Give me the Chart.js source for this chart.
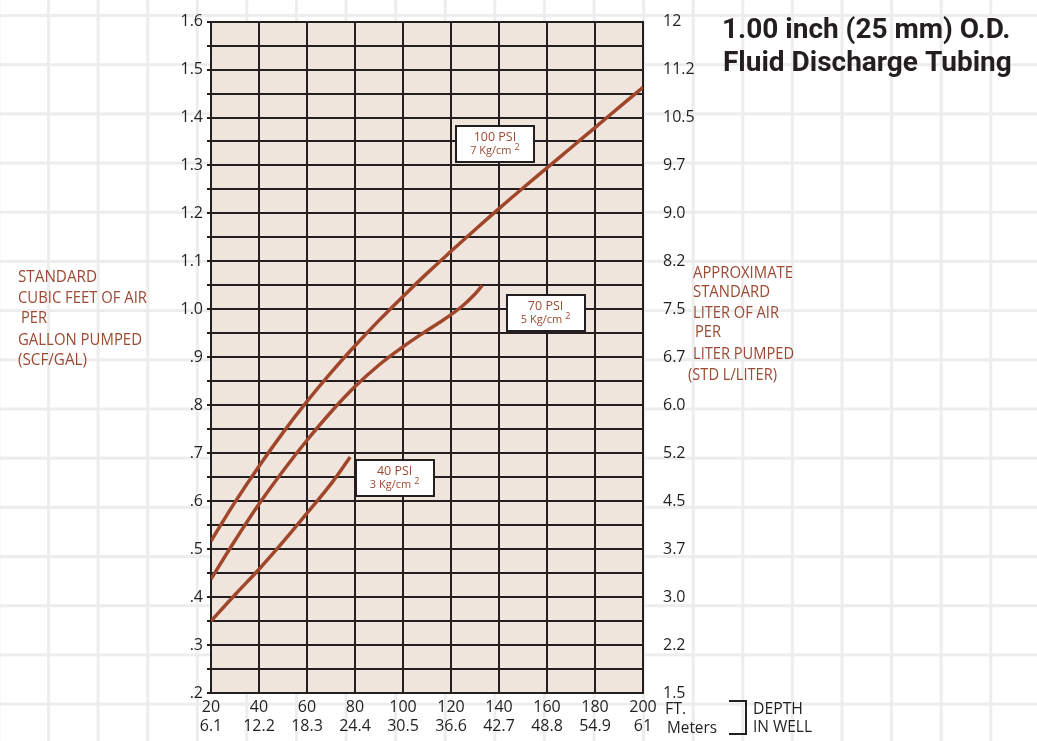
<!DOCTYPE html>
<html>
<head>
<meta charset="utf-8">
<script src="https://cdn.jsdelivr.net/npm/chart.js@4.4.0/dist/chart.umd.min.js"></script>
<style>
  body {
    margin: 0;
    width: 1037px;
    height: 741px;
    overflow: hidden;
    background-color: #fff;
    background-image:
      linear-gradient(to right, #ededed 3px, transparent 3px),
      linear-gradient(to bottom, #ededed 3px, transparent 3px);
    background-size: 49.6px 49.2px;
    background-position: 47px 14px;
  }
  canvas { display: block; }
</style>
</head>
<body>
<canvas id="tubeChart" width="1037" height="741"></canvas>
<script>
// depth axis (feet + metres)
const depthFt = [20, 40, 60, 80, 100, 120, 140, 160, 180, 200];
const depthMeters = ['6.1', '12.2', '18.3', '24.4', '30.5', '36.6', '42.7', '48.8', '54.9', '61'];

// left axis SCF/GAL, right axis STD L/LITER (same gridlines)
const scfLabels = ['.2', '.3', '.4', '.5', '.6', '.7', '.8', '.9', '1.0', '1.1', '1.2', '1.3', '1.4', '1.5', '1.6'];
const literLabels = ['1.5', '2.2', '3.0', '3.7', '4.5', '5.2', '6.0', '6.7', '7.5', '8.2', '9.0', '9.7', '10.5', '11.2', '12'];

// curves
const psi100Depth = [20, 30, 40, 50, 60, 70, 80, 90, 100, 110, 120, 130, 140, 150, 160, 170, 180, 190, 200];
const psi100Air = [0.517, 0.598, 0.673, 0.743, 0.808, 0.868, 0.924, 0.977, 1.027, 1.075, 1.121, 1.166, 1.210, 1.253, 1.295, 1.337, 1.379, 1.421, 1.463];

const psi70Depth = [20, 30, 40, 50, 60, 70, 80, 90, 100, 110, 115, 120, 125, 130, 133];
const psi70Air = [0.4375, 0.518, 0.594, 0.663, 0.727, 0.786, 0.839, 0.884, 0.922, 0.956, 0.972, 0.989, 1.008, 1.032, 1.050];

const psi40Depth = [20, 30, 40, 50, 60, 70, 78];
const psi40Air = [0.350, 0.405, 0.458, 0.515, 0.575, 0.636, 0.692];

// pressure label boxes, placed in data units
const notes = [
  { depth: 138.3, air: 1.344, psi: '100 PSI', kg: '7 Kg/cm' },
  { depth: 159.4, air: 0.992, psi: '70 PSI', kg: '5 Kg/cm' },
  { depth: 96.5, air: 0.649, psi: '40 PSI', kg: '3 Kg/cm' }
];

const INK = '#231f20';
const BROWN = '#9c4a33';
const CURVE = '#a0472b';
const FONT = '"Open Sans", "Noto Sans", sans-serif';

function toPoints(xs, ys) {
  return xs.map((x, i) => ({ x: x, y: ys[i] }));
}

function curve(xs, ys) {
  return {
    data: toPoints(xs, ys),
    borderColor: CURVE,
    borderWidth: 3.5,
    pointRadius: 0,
    fill: false,
    tension: 0.4
  };
}

const plotBg = {
  id: 'plotBg',
  beforeDraw(chart) {
    const a = chart.chartArea;
    const ctx = chart.ctx;
    ctx.save();
    ctx.fillStyle = '#efe5dd';
    ctx.fillRect(a.left, a.top, a.right - a.left, a.bottom - a.top);
    ctx.restore();
  }
};

const boxes = {
  id: 'boxes',
  afterDatasetsDraw(chart) {
    const ctx = chart.ctx;
    const xs = chart.scales.x, ys = chart.scales.y;
    ctx.save();
    notes.forEach(n => {
      const cx = xs.getPixelForValue(n.depth);
      const cy = ys.getPixelForValue(n.air);
      const w = 78, h = 36;
      const left = Math.round(cx - w / 2), top = Math.round(cy - h / 2);
      ctx.fillStyle = '#fff';
      ctx.fillRect(left, top, w, h);
      ctx.strokeStyle = INK;
      ctx.lineWidth = 2;
      ctx.strokeRect(left, top, w, h);

      ctx.fillStyle = BROWN;
      ctx.textBaseline = 'middle';
      ctx.textAlign = 'center';
      ctx.font = '12.5px ' + FONT;
      ctx.fillText(n.psi, cx, top + 11);

      ctx.font = '11px ' + FONT;
      const mw = ctx.measureText(n.kg).width;
      ctx.font = '9px ' + FONT;
      const sw = ctx.measureText('2').width;
      const x0 = cx - (mw + 3 + sw) / 2;
      ctx.textAlign = 'left';
      ctx.font = '11px ' + FONT;
      ctx.fillText(n.kg, x0, top + 25);
      ctx.font = '9px ' + FONT;
      ctx.fillText('2', x0 + mw + 3, top + 21);
    });
    ctx.restore();
  }
};

function lineFit(ctx, text, x, y, maxW) {
  ctx.fillText(text, x, y, maxW);
}

const texts = {
  id: 'texts',
  afterDraw(chart) {
    const ctx = chart.ctx;
    ctx.save();

    // title
    ctx.fillStyle = INK;
    ctx.textAlign = 'left';
    ctx.textBaseline = 'alphabetic';
    ctx.font = 'bold 28px Roboto, "Liberation Sans", sans-serif';
    lineFit(ctx, '1.00 inch (25 mm) O.D.', 722, 38, 303);
    lineFit(ctx, 'Fluid Discharge Tubing', 723, 71, 291);

    // left axis title
    ctx.fillStyle = BROWN;
    ctx.textBaseline = 'middle';
    ctx.font = '16px ' + FONT;
    lineFit(ctx, 'STANDARD', 18, 277, 79);
    lineFit(ctx, 'CUBIC FEET OF AIR', 18, 298, 129);
    lineFit(ctx, 'PER', 21, 318, 26);
    lineFit(ctx, 'GALLON PUMPED', 18, 340, 124);
    lineFit(ctx, '(SCF/GAL)', 18, 360, 69);

    // right axis title
    lineFit(ctx, 'APPROXIMATE', 693, 273, 100);
    lineFit(ctx, 'STANDARD', 693, 292, 77);
    lineFit(ctx, 'LITER OF AIR', 693, 313, 86);
    lineFit(ctx, 'PER', 695, 332, 26);
    lineFit(ctx, 'LITER PUMPED', 693, 354, 101);
    lineFit(ctx, '(STD L/LITER)', 688, 375, 89);

    // depth units
    ctx.fillStyle = INK;
    ctx.font = '16px ' + FONT;
    ctx.fillText('FT.', 665, 709, 26);
    ctx.fillText('Meters', 667, 728, 50);
    ctx.fillText('DEPTH', 753, 709, 50);
    ctx.fillText('IN WELL', 753, 727, 59);

    ctx.strokeStyle = INK;
    ctx.lineWidth = 2;
    ctx.beginPath();
    ctx.moveTo(729, 701);
    ctx.lineTo(746, 701);
    ctx.lineTo(746, 734);
    ctx.lineTo(729, 734);
    ctx.stroke();

    ctx.restore();
  }
};

new Chart(document.getElementById('tubeChart'), {
  type: 'line',
  data: {
    datasets: [
      curve(psi100Depth, psi100Air),
      curve(psi70Depth, psi70Air),
      curve(psi40Depth, psi40Air)
    ]
  },
  options: {
    responsive: false,
    animation: false,
    layout: { padding: { top: 20, left: 0, right: 0, bottom: 0 } },
    plugins: {
      legend: { display: false },
      tooltip: { enabled: false }
    },
    scales: {
      x: {
        type: 'linear',
        min: 20,
        max: 200,
        ticks: {
          stepSize: 20,
          color: INK,
          padding: 5,
          font: { family: FONT, size: 16, lineHeight: 1.2 },
          maxRotation: 0,
          callback(v) {
            const i = depthFt.indexOf(v);
            return i >= 0 ? [String(v), depthMeters[i]] : '';
          }
        },
        grid: { color: INK, lineWidth: 2, drawTicks: false },
        border: { color: INK, width: 2 },
        afterFit(scale) { scale.height = 48; }
      },
      y: {
        min: 0.2,
        max: 1.6,
        position: 'left',
        ticks: {
          stepSize: 0.05,
          autoSkip: false,
          color: INK,
          padding: 4,
          font: { family: FONT, size: 16 },
          callback(v) {
            const k = Math.round((v - 0.2) * 20);
            return k % 2 === 0 ? scfLabels[k / 2] : '';
          }
        },
        grid: { color: INK, lineWidth: 2, tickLength: 4 },
        border: { color: INK, width: 2 },
        afterFit(scale) { scale.width = 211; }
      },
      y2: {
        min: 0.2,
        max: 1.6,
        position: 'right',
        ticks: {
          stepSize: 0.05,
          autoSkip: false,
          color: INK,
          padding: 12,
          font: { family: FONT, size: 16 },
          callback(v) {
            const k = Math.round((v - 0.2) * 20);
            return k % 2 === 0 ? literLabels[k / 2] : '';
          }
        },
        grid: { display: false },
        border: { color: INK, width: 2 },
        afterFit(scale) { scale.width = 394; }
      }
    }
  },
  plugins: [plotBg, boxes, texts]
});
</script>
</body>
</html>
